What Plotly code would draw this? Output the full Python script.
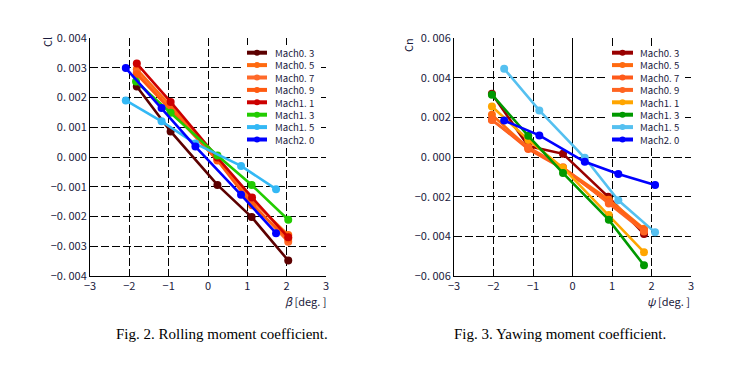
import plotly.graph_objects as go

W, H = 739, 375
OFF = 8  # page body margin offset compensation

# ---------------- data ----------------
mach_labels = ["Mach0. 3", "Mach0. 5", "Mach0. 7", "Mach0. 9",
               "Mach1. 1", "Mach1. 3", "Mach1. 5", "Mach2. 0"]

# Fig. 2 : rolling moment coefficient Cl vs beta
cl_colors = ["#5c0000", "#ff6a10", "#ff6a2a", "#ff5a10",
             "#cc0000", "#22cc00", "#33b8f5", "#0000ff"]
cl_beta = [
    [-1.81, -0.95, 0.24, 1.11, 2.04],
    [-1.81, -0.95, 0.24, 1.12, 2.04],
    [-1.81, -0.95, 0.24, 1.12, 2.04],
    [-1.81, -0.95, 0.24, 1.12, 2.04],
    [-1.81, -0.95, 0.24, 1.12, 2.04],
    [-1.83, -0.95, 0.24, 1.11, 2.04],
    [-2.09, -1.18, -0.32, 0.84, 1.73],
    [-2.09, -1.18, -0.32, 0.84, 1.73],
]
cl_vals = [
    [0.00237, 0.00086, -0.00094, -0.00202, -0.00348],
    [0.00295, 0.00172, -0.00005, -0.00145, -0.00262],
    [0.00285, 0.00162, -0.00010, -0.00155, -0.00285],
    [0.00278, 0.00158, -0.00012, -0.00162, -0.00275],
    [0.00314, 0.00185, -0.00002, -0.00136, -0.00270],
    [0.00254, 0.00149, 0.00005, -0.00094, -0.00211],
    [0.00190, 0.00120, 0.00045, -0.00030, -0.00108],
    [0.00299, 0.00165, 0.00035, -0.00127, -0.00256],
]

# Fig. 3 : yawing moment coefficient Cn vs psi
cn_colors = ["#990000", "#ff6a10", "#ff5a1a", "#ff6420",
             "#ffa500", "#009900", "#55c0f0", "#0000ff"]
cn_psi = [
    [-2.04, -1.12, -0.24, 0.90, 1.81],
    [-2.04, -1.12, -0.24, 0.92, 1.81],
    [-2.04, -1.12, -0.24, 0.92, 1.81],
    [-2.04, -1.12, -0.24, 0.92, 1.81],
    [-2.04, -1.12, -0.24, 0.92, 1.81],
    [-2.04, -1.12, -0.24, 0.92, 1.81],
    [-1.73, -0.84, 0.31, 1.16, 2.09],
    [-1.73, -0.84, 0.31, 1.16, 2.09],
]
cn_vals = [
    [0.00319, 0.00055, 0.00016, -0.00200, -0.00388],
    [0.00213, 0.00045, -0.00055, -0.00215, -0.00362],
    [0.00188, 0.00040, -0.00060, -0.00228, -0.00370],
    [0.00186, 0.00050, -0.00052, -0.00235, -0.00375],
    [0.00255, 0.00087, -0.00055, -0.00293, -0.00480],
    [0.00314, 0.00107, -0.00081, -0.00317, -0.00546],
    [0.00445, 0.00235, -0.00004, -0.00218, -0.00380],
    [0.00184, 0.00109, -0.00024, -0.00086, -0.00141],
]

x_ticks = [-3, -2, -1, 0, 1, 2, 3]
x_ticktext = ["\u22123", "\u22122", "\u22121", "0", "1", "2", "3"]
cl_ticks = [-0.004, -0.003, -0.002, -0.001, 0.0, 0.001, 0.002, 0.003, 0.004]
cl_ticktext = ["\u22120. 004", "\u22120. 003", "\u22120. 002", "\u22120. 001", "0. 000",
               "0. 001", "0. 002", "0. 003", "0. 004"]
cn_ticks = [-0.006, -0.004, -0.002, 0.0, 0.002, 0.004, 0.006]
cn_ticktext = ["\u22120. 006", "\u22120. 004", "\u22120. 002", "0. 000",
               "0. 002", "0. 004", "0. 006"]

# ---------------- helpers ----------------
def px(x):
    return (x - OFF) / W

def py(y):
    return 1 - (y - OFF) / H

TICKFONT = dict(family="Noto Sans CJK JP, DejaVu Sans", size=11, color="#1a1a3c")
LEG_SIZE = 9.55  # line height 1.3*size ~= 12.4 px row spacing
LEGFONT = dict(family="Noto Sans CJK JP, DejaVu Sans", size=LEG_SIZE, color="#1a1a3c")
ROW0, ROWGAP = 52.7, 12.4

fig = go.Figure()

for i, name in enumerate(mach_labels):
    fig.add_trace(go.Scatter(
        x=cl_beta[i], y=cl_vals[i], mode="lines+markers", name=name,
        line=dict(color=cl_colors[i], width=2.6),
        marker=dict(color=cl_colors[i], size=8),
        xaxis="x", yaxis="y", showlegend=False))
for i, name in enumerate(mach_labels):
    fig.add_trace(go.Scatter(
        x=cn_psi[i], y=cn_vals[i], mode="lines+markers", name=name,
        line=dict(color=cn_colors[i], width=2.6),
        marker=dict(color=cn_colors[i], size=8),
        xaxis="x2", yaxis="y2", showlegend=False))

def axis_common():
    return dict(showline=True, linecolor="black", linewidth=1,
                showgrid=True, gridcolor="black", gridwidth=1, griddash="8px,3px",
                ticks="inside", ticklen=4, tickcolor="black", automargin=False,
                tickfont=TICKFONT, zeroline=False, fixedrange=True)

L = (90, 326)
R = (454, 691)
T, B = 38, 276

fig.update_layout(
    width=W, height=H, margin=dict(l=0, r=0, t=0, b=0, pad=0, autoexpand=False),
    paper_bgcolor="white", plot_bgcolor="white", showlegend=False,
    xaxis=dict(domain=[px(L[0]), px(L[1])], range=[-3, 3], anchor="y",
               tickvals=x_ticks, ticktext=x_ticktext, **axis_common()),
    yaxis=dict(domain=[py(B), py(T)], range=[-0.004, 0.004], anchor="x",
               tickvals=cl_ticks, ticktext=cl_ticktext, **axis_common()),
    xaxis2=dict(domain=[px(R[0]), px(R[1])], range=[-3, 3], anchor="y2",
                tickvals=x_ticks, ticktext=x_ticktext, **axis_common()),
    yaxis2=dict(domain=[py(B), py(T)], range=[-0.006, 0.006], anchor="x2",
                tickvals=cn_ticks, ticktext=cn_ticktext, **axis_common()),
)
fig.layout.xaxis2.zeroline = True
fig.layout.xaxis2.zerolinecolor = "black"
fig.layout.xaxis2.zerolinewidth = 1

shapes = []
annotations = []

# legends (drawn manually to match the compact spacing)
def legend(box, x_line0, x_line1, x_text, colors):
    shapes.append(dict(type="rect", xref="paper", yref="paper", layer="above",
                       x0=px(box[0]), x1=px(box[1]), y0=py(box[3]), y1=py(box[2]),
                       fillcolor="white", line=dict(width=0)))
    for i, name in enumerate(mach_labels):
        yy = ROW0 + i * ROWGAP
        shapes.append(dict(type="line", xref="paper", yref="paper", layer="above",
                           x0=px(x_line0), x1=px(x_line1), y0=py(yy), y1=py(yy),
                           line=dict(color=colors[i], width=4)))
        cx = (x_line0 + x_line1) / 2
        shapes.append(dict(type="circle", xref="paper", yref="paper", layer="above",
                           xsizemode="pixel", ysizemode="pixel",
                           xanchor=px(cx), yanchor=py(yy),
                           x0=-3, x1=3, y0=-3, y1=3,
                           fillcolor=colors[i], line=dict(color=colors[i], width=0)))
    ymid = ROW0 + ROWGAP * (len(mach_labels) - 1) / 2
    annotations.append(dict(xref="paper", yref="paper", x=px(x_text), y=py(ymid),
                            text="<br>".join(mach_labels), showarrow=False,
                            xanchor="left", yanchor="middle", align="left",
                            font=LEGFONT, borderpad=0))

legend((244, 321, 45, 146), 247, 267, 274, cl_colors)
legend((608, 685, 46, 146), 612, 633, 639, cn_colors)

# axis titles
annotations.append(dict(xref="paper", yref="paper", x=px(47), y=py(42), text="Cl",
                        showarrow=False, textangle=-90, font=TICKFONT,
                        xanchor="center", yanchor="middle", borderpad=0))
annotations.append(dict(xref="paper", yref="paper", x=px(408), y=py(45), text="Cn",
                        showarrow=False, textangle=-90, font=TICKFONT,
                        xanchor="center", yanchor="middle", borderpad=0))
annotations.append(dict(xref="paper", yref="paper", x=px(327), y=py(301),
                        text="<i>\u03b2</i> [deg. ]", showarrow=False, xanchor="right",
                        yanchor="middle", borderpad=0,
                        font=dict(family="Noto Sans CJK JP, DejaVu Sans", size=11, color="#1a1a3c")))
annotations.append(dict(xref="paper", yref="paper", x=px(691), y=py(301),
                        text="<i>\u03c8</i> [deg. ]", showarrow=False, xanchor="right",
                        yanchor="middle", borderpad=0,
                        font=dict(family="Noto Sans CJK JP, DejaVu Sans", size=11, color="#1a1a3c")))

# captions
CAP = dict(family="Liberation Serif, Times New Roman, serif", size=15, color="black")
annotations.append(dict(xref="paper", yref="paper", x=px(222), y=py(334),
                        text="Fig. 2. Rolling moment coefficient.", showarrow=False,
                        xanchor="center", yanchor="middle", font=CAP))
annotations.append(dict(xref="paper", yref="paper", x=px(560), y=py(334),
                        text="Fig. 3. Yawing moment coefficient.", showarrow=False,
                        xanchor="center", yanchor="middle", font=CAP))

fig.update_layout(shapes=shapes, annotations=annotations)
fig.write_html("out.html")
